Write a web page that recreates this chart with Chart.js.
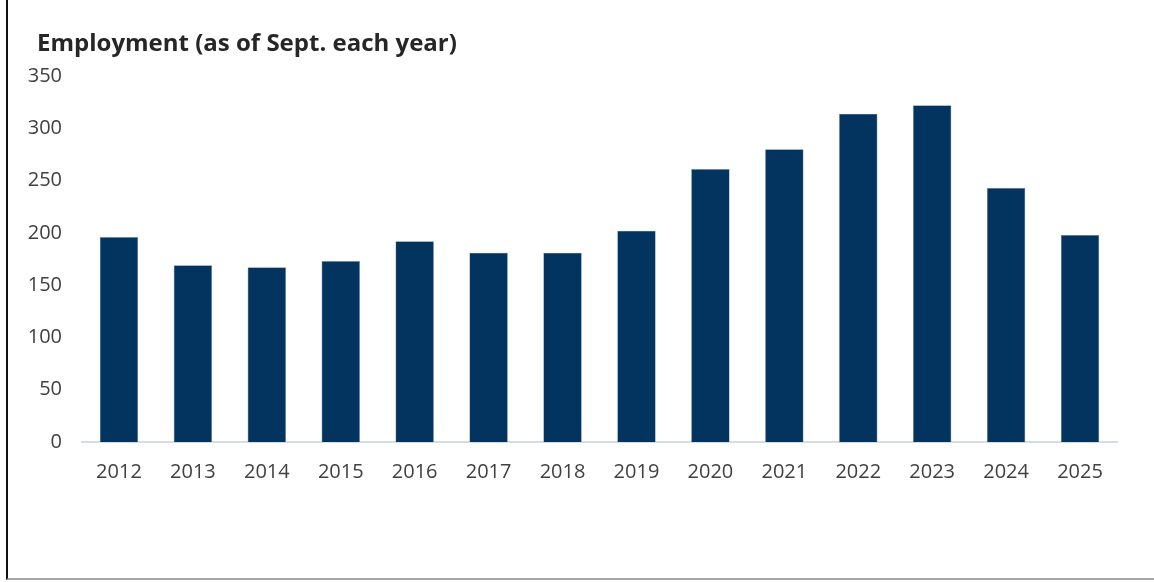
<!DOCTYPE html>
<html>
<head>
<meta charset="utf-8">
<script src="https://cdn.jsdelivr.net/npm/chart.js@4.4.1/dist/chart.umd.min.js"></script>
<style>
  html, body { margin: 0; padding: 0; background: #fff; }
  #frame {
    position: absolute; left: 6px; top: 0; width: 1148px; height: 580px;
    border-left: 2px solid #111; border-bottom: 2px solid #a6a6a6;
    box-sizing: border-box;
  }
  #wrap { position: absolute; left: 0; top: 0; width: 1154px; height: 582px; }
  #title {
    position: absolute; left: 37px; top: 27px; margin: 0;
    font: bold 24px/30px 'Open Sans', sans-serif; color: #262626;
    white-space: nowrap;
  }
</style>
</head>
<body>
<div id="frame"></div>
<div id="wrap"><canvas id="chart"></canvas></div>
<h2 id="title">Employment (as of Sept. each year)</h2>
<script>
const years = ['2012', '2013', '2014', '2015', '2016', '2017', '2018',
               '2019', '2020', '2021', '2022', '2023', '2024', '2025'];
const employment = [196, 169, 167, 173, 192, 181, 181, 202, 261, 280, 314, 322, 243, 198];
const yTicks = [0, 50, 100, 150, 200, 250, 300, 350];

document.addEventListener("DOMContentLoaded", () => {
  drawChart();
});

function drawChart() {
  const ctx = document.getElementById('chart').getContext('2d');

  new Chart(ctx, {
    type: 'bar',
    data: {
      labels: years,
      datasets: [{
        label: 'Employment',
        data: employment,
        backgroundColor: '#03345f',
        borderColor: '#6d8aa8',
        borderWidth: 0.6,
        categoryPercentage: 1.0,
        barPercentage: 0.52
      }]
    },
    options: {
      responsive: true,
      maintainAspectRatio: false,
      animation: false,
      layout: {
        padding: { left: 20, right: 37, top: 76, bottom: 0 }
      },
      plugins: {
        legend: { display: false },
        tooltip: { enabled: false },
        title: { display: false }
      },
      scales: {
        x: {
          grid: { display: false, drawTicks: false },
          border: { display: true, color: '#d6dce4', width: 2 },
          ticks: {
            color: '#404040',
            font: { family: 'Open Sans', size: 20 },
            padding: 18,
            maxRotation: 0
          },
          afterFit: scale => { scale.height = 140; }
        },
        y: {
          min: 0,
          max: 350,
          grid: { display: false, drawTicks: false },
          border: { display: false },
          afterBuildTicks: scale => {
            scale.ticks = yTicks.map(v => ({ value: v }));
          },
          ticks: {
            color: '#404040',
            font: { family: 'Open Sans', size: 20 },
            padding: 20
          },
          afterFit: scale => { scale.width = 62; }
        }
      }
    }
  });
}
</script>
</body>
</html>
